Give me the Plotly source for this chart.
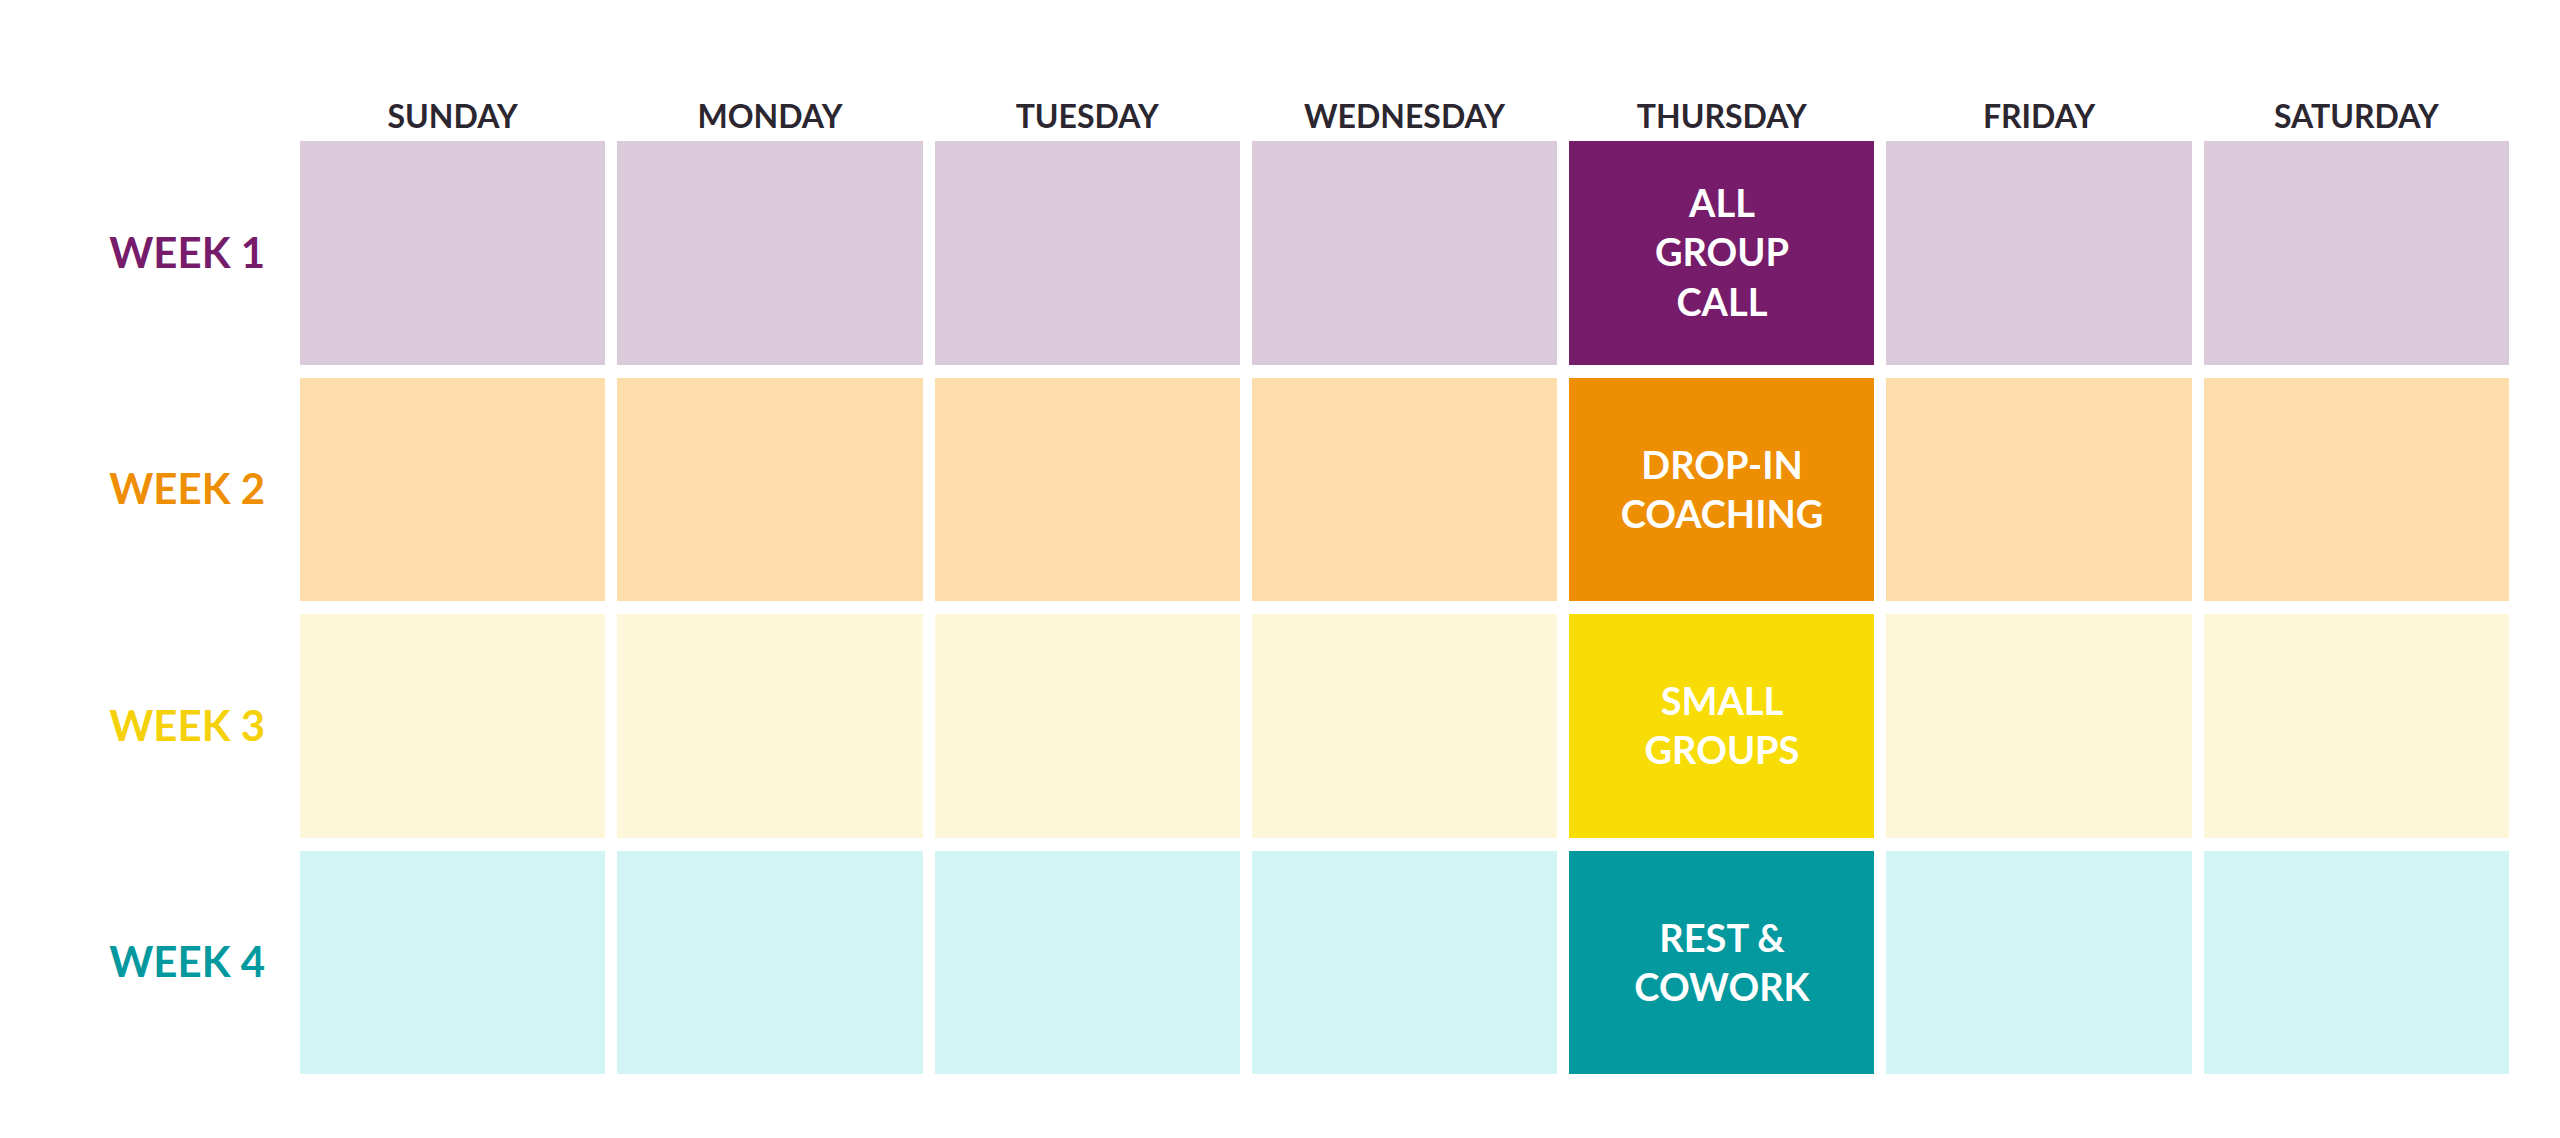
import plotly.graph_objects as go

days = ["SUNDAY", "MONDAY", "TUESDAY", "WEDNESDAY", "THURSDAY", "FRIDAY", "SATURDAY"]
weeks = ["WEEK 1", "WEEK 2", "WEEK 3", "WEEK 4"]
week_colors = ["#761C6A", "#EE8E02", "#F5D10A", "#03999E"]
light_colors = ["#DBCAD9", "#FDDDAB", "#FEF6D8", "#D3F4F4"]
events = ["ALL<br>GROUP<br>CALL", "DROP-IN<br>COACHING", "SMALL<br>GROUPS", "REST &<br>COWORK"]
event_colors = ["#761C6A", "#EE8E02", "#F8DC06", "#03999E"]
event_day = "THURSDAY"

# code per cell: 2*week (light) or 2*week+1 (event)
z, text = [], []
for i, w in enumerate(weeks):
    z.append([2 * i + (1 if d == event_day else 0) for d in days])
    text.append([events[i] if d == event_day else "" for d in days])

palette = []
for i in range(len(weeks)):
    palette += [light_colors[i], event_colors[i]]
n = len(palette)
colorscale = []
for k, c in enumerate(palette):
    colorscale.append([k / n, c])
    colorscale.append([(k + 1) / n, c])

fig = go.Figure(go.Heatmap(
    z=z, x=days, y=weeks, text=text, texttemplate="<b>%{text}</b>",
    textfont=dict(family="Lato", size=38, color="white"),
    colorscale=colorscale, zmin=-0.5, zmax=n - 0.5, showscale=False,
    xgap=12, ygap=13, hoverinfo="skip",
))

ticktext = [f"<span style='color:{c}'><b>{w}</b></span>" for w, c in zip(weeks, week_colors)]
fig.update_layout(
    width=2560, height=1138, plot_bgcolor="white", paper_bgcolor="white",
    margin=dict(l=286, r=53, t=127, b=65),
    xaxis=dict(side="top", showgrid=False, zeroline=False, ticks="",
               tickfont=dict(family="Lato", size=32, color="#2B2630"),
               ticktext=[f"<b>{d}</b>" for d in days], tickvals=days),
    yaxis=dict(autorange="reversed", showgrid=False, zeroline=False, ticks="",
               tickvals=weeks, ticktext=ticktext, ticklabelstandoff=28,
               tickfont=dict(family="Lato", size=42)),
)
fig.write_html("out.html")
